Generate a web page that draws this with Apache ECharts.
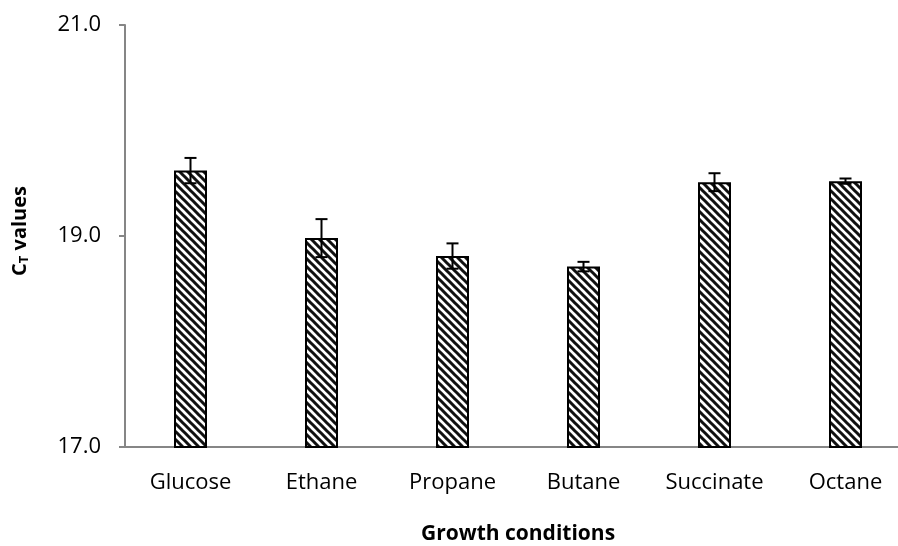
<!DOCTYPE html>
<html>
<head>
<meta charset="utf-8">
<script src="https://cdn.jsdelivr.net/npm/echarts@6/dist/echarts.min.js"></script>
<style>
  html, body { margin: 0; padding: 0; background: #fff; }
  #chart { width: 898px; height: 546px; }
</style>
</head>
<body>
<div id="chart"></div>
<script>
// Growth conditions and mean CT values with their error margins
const categories = ['Glucose', 'Ethane', 'Propane', 'Butane', 'Succinate', 'Octane'];
const ctMeans = [19.62, 18.98, 18.81, 18.71, 19.51, 19.52];
const ctErrors = [0.12, 0.18, 0.12, 0.045, 0.085, 0.025];
const yTicks = [17, 19, 21];

// Diagonal hatch fill ("\" direction)
function makeHatch() {
  const s = 8;
  const c = document.createElement('canvas');
  c.width = s; c.height = s;
  const g = c.getContext('2d');
  g.fillStyle = '#ffffff';
  g.fillRect(0, 0, s, s);
  g.strokeStyle = '#111111';
  g.lineWidth = 3;
  g.beginPath();
  g.moveTo(-s, -s); g.lineTo(2 * s, 2 * s);
  g.moveTo(-s, 0); g.lineTo(s, 2 * s);
  g.moveTo(0, -s); g.lineTo(2 * s, s);
  g.stroke();
  return c;
}

const chart = echarts.init(document.getElementById('chart'));
const font = '"Open Sans", "Noto Sans", sans-serif';

chart.setOption({
  animation: false,
  grid: { left: 125, top: 25, width: 786, height: 422, outerBoundsMode: 'none', containLabel: false },
  xAxis: {
    type: 'category',
    data: categories,
    name: 'Growth conditions',
    nameLocation: 'middle',
    nameGap: 77,
    nameTextStyle: { fontFamily: font, fontSize: 21, fontWeight: 'bold', color: '#000' },
    axisLine: { lineStyle: { color: '#868686', width: 2 } },
    axisTick: { show: false },
    axisLabel: { margin: 25, fontFamily: font, fontSize: 22, color: '#000' }
  },
  yAxis: {
    type: 'value',
    min: yTicks[0],
    max: yTicks[yTicks.length - 1],
    interval: 2,
    name: '{b|C}{s|T}{b| values}',
    nameLocation: 'middle',
    nameGap: 94,
    nameRotate: 90,
    nameTextStyle: {
      padding: [0, 0, 0, 10],
      rich: {
        b: { fontFamily: font, fontSize: 20, fontWeight: 'bold', color: '#000' },
        s: { fontFamily: font, fontSize: 13, fontWeight: 'bold', color: '#000', verticalAlign: 'bottom', padding: [9, 0, 0, 0] }
      }
    },
    axisLine: { show: true, lineStyle: { color: '#868686', width: 2 } },
    axisTick: { show: true, length: 6, lineStyle: { color: '#868686', width: 2 } },
    splitLine: { show: false },
    axisLabel: {
      margin: 24,
      fontFamily: font,
      fontSize: 22,
      color: '#000',
      formatter: v => v.toFixed(1)
    }
  },
  series: [
    {
      type: 'bar',
      data: ctMeans,
      barWidth: 33,
      itemStyle: {
        color: { image: makeHatch(), repeat: 'repeat' },
        borderColor: '#000',
        borderWidth: 2
      }
    },
    {
      type: 'custom',
      data: ctMeans.map((m, i) => [i, m - ctErrors[i], m + ctErrors[i]]),
      z: 10,
      renderItem: function (params, api) {
        const lo = api.coord([api.value(0), api.value(1)]);
        const hi = api.coord([api.value(0), api.value(2)]);
        const hw = 6;
        const style = { stroke: '#000', lineWidth: 2 };
        return {
          type: 'group',
          children: [
            { type: 'line', shape: { x1: hi[0], y1: hi[1], x2: lo[0], y2: lo[1] }, style },
            { type: 'line', shape: { x1: hi[0] - hw, y1: hi[1], x2: hi[0] + hw, y2: hi[1] }, style },
            { type: 'line', shape: { x1: lo[0] - hw, y1: lo[1], x2: lo[0] + hw, y2: lo[1] }, style }
          ]
        };
      }
    }
  ]
});
</script>
</body>
</html>
